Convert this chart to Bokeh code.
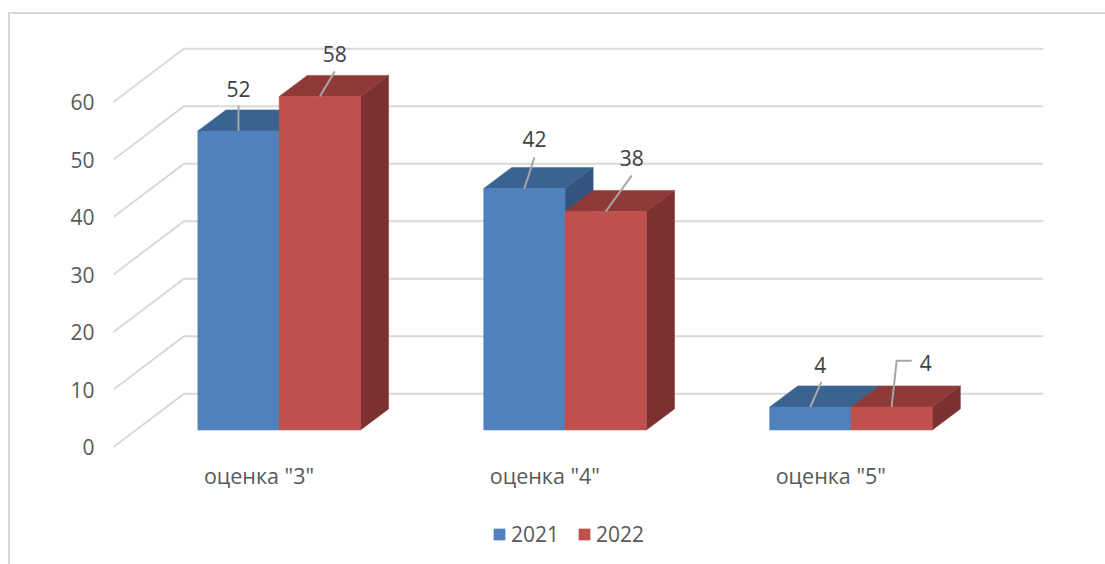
from bokeh.plotting import figure
from bokeh.models import Range1d, FixedTicker, Legend, LegendItem
from bokeh.core.properties import value
from bokeh.embed import file_html
from bokeh.resources import INLINE

categories = ['оценка "3"', 'оценка "4"', 'оценка "5"']
series_names = ["2021", "2022"]
values_2021 = [52, 42, 4]
values_2022 = [58, 38, 4]
y_ticks = [0, 10, 20, 30, 40, 50, 60]

# scale: pixels per data unit
PX_X = 284.75
PX_Y = 5.73
FONT = value("Open Sans")

# label leader offsets from the bar front-top centre, in pixels
leader_2021 = [[(0, 0), (0, 25)], [(0, 0), (10, 31)], [(0, 0), (11, 25)]]
leader_2022 = [[(0, 0), (15, 25)], [(0, 0), (26, 36)], [(0, 0), (5, 46), (20, 46)]]
label_2021 = [(0, 42), (10, 49), (10, 42)]
label_2022 = [(15, 42), (26, 53), (34, 44)]

WALL_DX, WALL_DY = 70 / PX_X, 53 / PX_Y
FRONT_DX, FRONT_DY = 22.6 / PX_X, 17 / PX_Y
DEPTH_DX, DEPTH_DY = 28 / PX_X, 21 / PX_Y
BAR_W = 81 / PX_X
GRID_END = 926 / PX_X
LABEL_SHIFT = 2.5 / PX_X

p = figure(width=1097, height=552, output_backend="svg", toolbar_location=None,
           x_range=Range1d(0, 990 / PX_X), y_range=Range1d(-119 / PX_Y, 431 / PX_Y),
           min_border_left=103, min_border_right=0, min_border_top=0, min_border_bottom=0,
           outline_line_color=None, margin=(12, 0, 0, 8),
           styles={"border-left": "2px solid #D9D9D9", "border-top": "2px solid #D9D9D9",
                   "box-sizing": "border-box"})
p.grid.visible = False

# value axis
ax = p.yaxis[0]
ax.ticker = FixedTicker(ticks=y_ticks)
ax.axis_line_color = None
ax.major_tick_line_color = None
ax.minor_tick_line_color = None
ax.major_label_standoff = 13
ax.major_label_text_font = "Open Sans"
ax.major_label_text_font_size = "21px"
ax.major_label_text_color = "#595959"

# category axis, pinned to the value 0 inside the frame
cat_ticks = [i + 0.5 + LABEL_SHIFT for i in range(len(categories))]
cx = p.xaxis[0]
cx.fixed_location = 0
cx.ticker = FixedTicker(ticks=cat_ticks)
cx.major_label_overrides = dict(zip(cat_ticks, categories))
cx.axis_line_color = None
cx.major_tick_line_color = None
cx.minor_tick_line_color = None
cx.major_label_standoff = 8
cx.major_label_text_font = "Open Sans"
cx.major_label_text_font_size = "21.5px"
cx.major_label_text_color = "#595959"

# wall and floor grid lines
p.multi_line([[0, WALL_DX, GRID_END] for _ in y_ticks],
             [[t, t + WALL_DY, t + WALL_DY] for t in y_ticks],
             line_color="#D9D9D9", line_width=2)

colors = [("#4F81BD", "#3B6391", "#32547E"), ("#C0504D", "#8F3A38", "#7C3130")]
front_renderers = []
for s, vals in enumerate([values_2021, values_2022]):
    fx, fy, tx, ty, sx, sy = [], [], [], [], [], []
    for i, v in enumerate(vals):
        x0 = i + 0.5 + FRONT_DX - BAR_W + s * BAR_W
        x1 = x0 + BAR_W
        y0 = FRONT_DY
        y1 = v + FRONT_DY
        fx.append([x0, x1, x1, x0]); fy.append([y0, y0, y1, y1])
        tx.append([x0, x1, x1 + DEPTH_DX, x0 + DEPTH_DX]); ty.append([y1, y1, y1 + DEPTH_DY, y1 + DEPTH_DY])
        sx.append([x1, x1 + DEPTH_DX, x1 + DEPTH_DX, x1]); sy.append([y0, y0 + DEPTH_DY, y1 + DEPTH_DY, y1])
    front, top, side = colors[s]
    p.patches(sx, sy, fill_color=side, line_color=side, line_width=0.5)
    p.patches(tx, ty, fill_color=top, line_color=top, line_width=0.5)
    front_renderers.append(p.patches(fx, fy, fill_color=front, line_color=front, line_width=0.5))

# leader lines and data labels
for s, (vals, leaders, labels) in enumerate([(values_2021, leader_2021, label_2021),
                                             (values_2022, leader_2022, label_2022)]):
    lx, ly, tx, ty, txt = [], [], [], [], []
    for i, v in enumerate(vals):
        cx0 = i + 0.5 + FRONT_DX - BAR_W + s * BAR_W + BAR_W / 2
        cy0 = v + FRONT_DY
        lx.append([cx0 + dx / PX_X for dx, dy in leaders[i]])
        ly.append([cy0 + dy / PX_Y for dx, dy in leaders[i]])
        tx.append(cx0 + labels[i][0] / PX_X)
        ty.append(cy0 + labels[i][1] / PX_Y)
        txt.append(str(v))
    p.multi_line(lx, ly, line_color="#A6A6A6", line_width=2)
    p.text(x=tx, y=ty, text=txt, text_font=FONT, text_font_size="21px", text_color="#404040",
           text_align="center", text_baseline="middle")

legend = Legend(items=[LegendItem(label=series_names[k], renderers=[front_renderers[k]]) for k in range(2)],
                orientation="horizontal", location=(379, 18), glyph_width=14, glyph_height=14,
                label_standoff=5, spacing=18, padding=0, margin=0, border_line_color=None,
                background_fill_alpha=0, label_text_font="Open Sans", label_text_font_size="21px",
                label_text_color="#595959", label_height=14)
p.add_layout(legend, "center")

open("out.html", "w").write(file_html(p, INLINE))
